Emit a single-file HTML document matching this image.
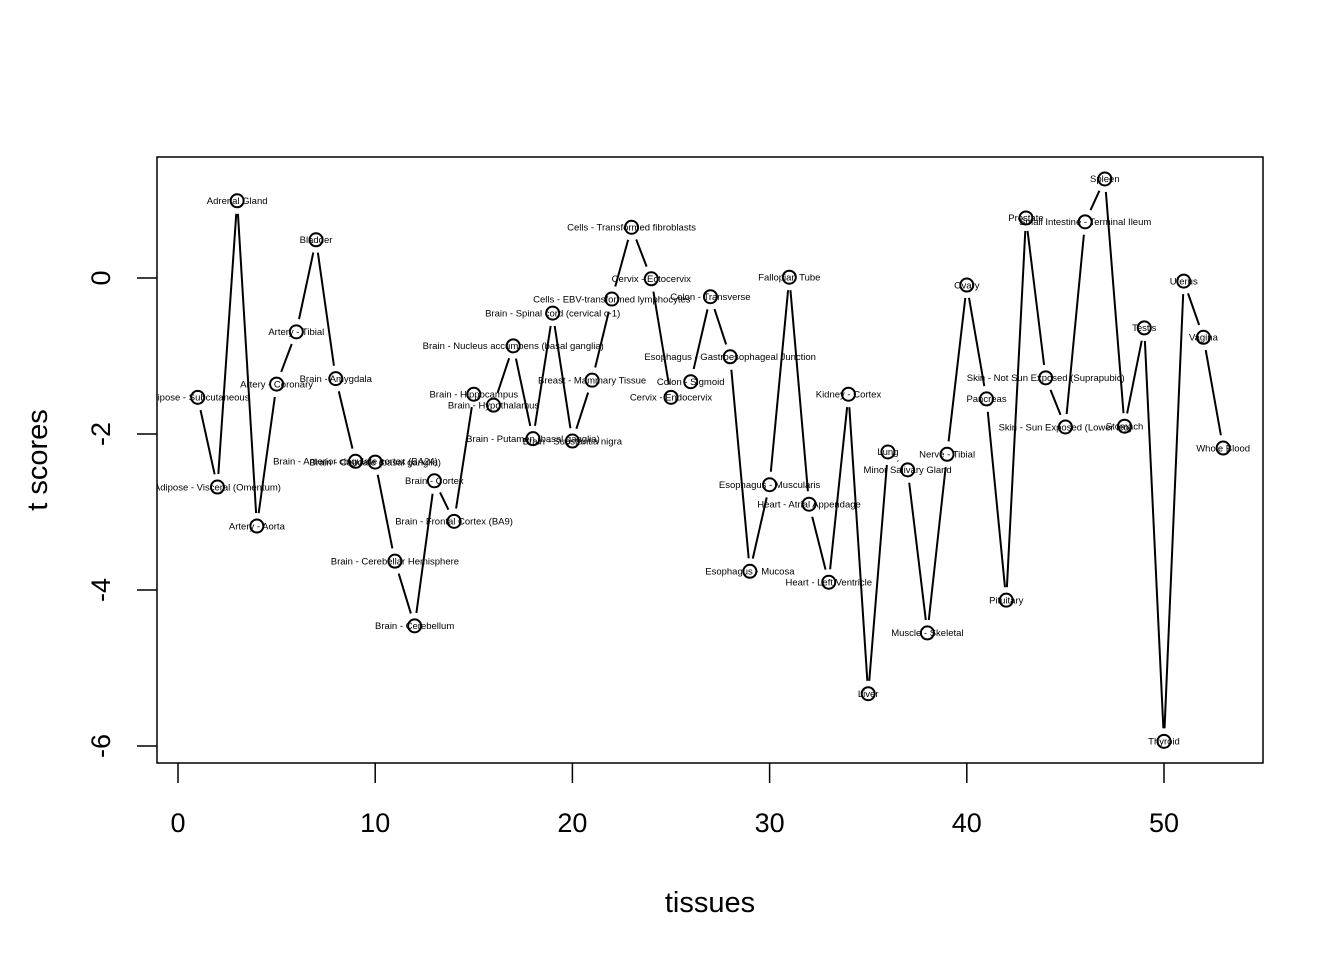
<!DOCTYPE html>
<html><head><meta charset="utf-8"><style>body{margin:0;background:#fff}svg{display:block}text{font-family:"Liberation Sans",Arial,sans-serif}</style></head>
<body>
<svg id="c" width="1344" height="960"></svg>
<script>
const names=["Adipose - Subcutaneous","Adipose - Visceral (Omentum)","Adrenal Gland","Artery - Aorta","Artery - Coronary","Artery - Tibial","Bladder","Brain - Amygdala","Brain - Anterior cingulate cortex (BA24)","Brain - Caudate (basal ganglia)","Brain - Cerebellar Hemisphere","Brain - Cerebellum","Brain - Cortex","Brain - Frontal Cortex (BA9)","Brain - Hippocampus","Brain - Hypothalamus","Brain - Nucleus accumbens (basal ganglia)","Brain - Putamen (basal ganglia)","Brain - Spinal cord (cervical c-1)","Brain - Substantia nigra","Breast - Mammary Tissue","Cells - EBV-transformed lymphocytes","Cells - Transformed fibroblasts","Cervix - Ectocervix","Cervix - Endocervix","Colon - Sigmoid","Colon - Transverse","Esophagus - Gastroesophageal Junction","Esophagus - Mucosa","Esophagus - Muscularis","Fallopian Tube","Heart - Atrial Appendage","Heart - Left Ventricle","Kidney - Cortex","Liver","Lung","Minor Salivary Gland","Muscle - Skeletal","Nerve - Tibial","Ovary","Pancreas","Pituitary","Prostate","Skin - Not Sun Exposed (Suprapubic)","Skin - Sun Exposed (Lower leg)","Small Intestine - Terminal Ileum","Spleen","Stomach","Testis","Thyroid","Uterus","Vagina","Whole Blood"];
const tscores=[-1.53,-2.68,0.99,-3.18,-1.36,-0.69,0.49,-1.29,-2.35,-2.36,-3.63,-4.46,-2.60,-3.12,-1.49,-1.63,-0.87,-2.06,-0.45,-2.09,-1.31,-0.27,0.65,-0.01,-1.53,-1.33,-0.24,-1.01,-3.76,-2.65,0.01,-2.90,-3.90,-1.49,-5.33,-2.23,-2.46,-4.55,-2.26,-0.09,-1.55,-4.13,0.77,-1.28,-1.91,0.72,1.27,-1.90,-0.64,-5.94,-0.04,-0.76,-2.18];
const xTicks=[0,10,20,30,40,50];
const yTicks=[0,-2,-4,-6];
const NS="http://www.w3.org/2000/svg",svg=document.getElementById('c');
const X=v=>178+v*19.72, Y=v=>278-v*78;
function mk(t,a,p){const e=document.createElementNS(NS,t);for(const k in a)e.setAttribute(k,a[k]);(p||svg).appendChild(e);return e;}
const defs=mk('defs',{});const cp=mk('clipPath',{id:'pc'},defs);mk('rect',{x:157,y:157,width:1106,height:606},cp);
const box=mk('rect',{x:157,y:157,width:1106,height:606,fill:'none',stroke:'#000','stroke-width':1.5});

xTicks.forEach(v=>{mk('line',{x1:X(v),x2:X(v),y1:763,y2:783,stroke:'#000','stroke-width':1.5});
 const t=mk('text',{x:X(v),y:832,'font-size':27,'text-anchor':'middle'});t.textContent=v;
 });
yTicks.forEach(v=>{mk('line',{x1:137,x2:157,y1:Y(v),y2:Y(v),stroke:'#000','stroke-width':1.5});
 const t=mk('text',{x:0,y:0,'font-size':27,'text-anchor':'middle',transform:`translate(110,${Y(v)}) rotate(-90)`});t.textContent=v;
 });
let t=mk('text',{x:710,y:912,'font-size':29,'text-anchor':'middle'});t.textContent='tissues';

t=mk('text',{x:0,y:0,'font-size':29,'text-anchor':'middle',transform:'translate(47,460) rotate(-90)'});t.textContent='t scores';

const g=mk('g',{'clip-path':'url(#pc)'});
const gap=13;
for(let i=0;i<tscores.length-1;i++){
 const x1=X(i+1),y1=Y(tscores[i]),x2=X(i+2),y2=Y(tscores[i+1]);
 const d=Math.hypot(x2-x1,y2-y1);if(d<=2*gap)continue;
 const ux=(x2-x1)/d,uy=(y2-y1)/d;
 const l=mk('line',{x1:x1+ux*gap,y1:y1+uy*gap,x2:x2-ux*gap,y2:y2-uy*gap,stroke:'#000','stroke-width':2},g);
 
}
tscores.forEach((v,i)=>{
 const c=mk('circle',{cx:X(i+1),cy:Y(v),r:6.5,fill:'none',stroke:'#000','stroke-width':2},g);
 
 const l=mk('text',{x:X(i+1),y:Y(v)+3.3,'font-size':9.5,'text-anchor':'middle'},g);l.textContent=names[i];
 
});
</script>
</body></html>
